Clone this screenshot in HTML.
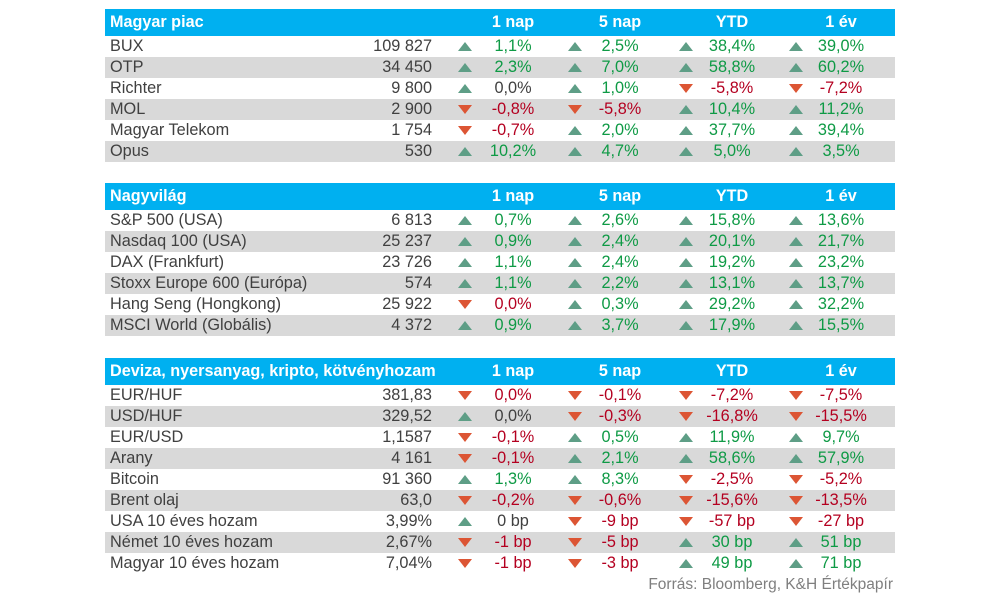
<!DOCTYPE html>
<html><head><meta charset="utf-8"><style>
body{margin:0;width:1000px;height:598px;background:#fff;position:relative;overflow:hidden;font-family:"Liberation Sans",sans-serif;font-size:16.3px;color:#404040}
.r{position:absolute;left:105px;width:790px;height:21px;line-height:21px}
.h{position:absolute;left:105px;width:790px;height:27px;line-height:27px;background:#00b0f0;color:#fff;font-weight:bold;font-size:16.2px}
.gr{background:#d9d9d9}
.r span,.h span{position:absolute;top:0;white-space:nowrap}
.n{left:5px}
.v{right:463px}
.c{width:90px;text-align:center}
.c1{left:363px}.c2{left:470px}.c3{left:582px}.c4{left:691px}
.u,.d{position:absolute;width:0;height:0;border-left:7px solid transparent;border-right:7px solid transparent;top:6px}
.u{border-bottom:9px solid #5e9e86}
.d{border-top:9px solid #dc5534}
.a1{left:353px}.a2{left:463px}.a3{left:574px}.a4{left:684px}
.g{color:#0e9a45}.k{color:#404040}.e{color:#b40020}
.src{position:absolute;right:107px;top:576px;color:#7f7f7f;font-size:15.5px}
</style></head><body>

<div class="h" style="top:9px"><span class="n">Magyar piac</span><span class="c c1">1 nap</span><span class="c c2">5 nap</span><span class="c c3">YTD</span><span class="c c4">1 év</span></div>
<div class="r" style="top:36px"><span class="n">BUX</span><span class="v">109 827</span><i class="u a1"></i><span class="c c1 g">1,1%</span><i class="u a2"></i><span class="c c2 g">2,5%</span><i class="u a3"></i><span class="c c3 g">38,4%</span><i class="u a4"></i><span class="c c4 g">39,0%</span></div>
<div class="r gr" style="top:57px"><span class="n">OTP</span><span class="v">34 450</span><i class="u a1"></i><span class="c c1 g">2,3%</span><i class="u a2"></i><span class="c c2 g">7,0%</span><i class="u a3"></i><span class="c c3 g">58,8%</span><i class="u a4"></i><span class="c c4 g">60,2%</span></div>
<div class="r" style="top:78px"><span class="n">Richter</span><span class="v">9 800</span><i class="u a1"></i><span class="c c1 k">0,0%</span><i class="u a2"></i><span class="c c2 g">1,0%</span><i class="d a3"></i><span class="c c3 e">-5,8%</span><i class="d a4"></i><span class="c c4 e">-7,2%</span></div>
<div class="r gr" style="top:99px"><span class="n">MOL</span><span class="v">2 900</span><i class="d a1"></i><span class="c c1 e">-0,8%</span><i class="d a2"></i><span class="c c2 e">-5,8%</span><i class="u a3"></i><span class="c c3 g">10,4%</span><i class="u a4"></i><span class="c c4 g">11,2%</span></div>
<div class="r" style="top:120px"><span class="n">Magyar Telekom</span><span class="v">1 754</span><i class="d a1"></i><span class="c c1 e">-0,7%</span><i class="u a2"></i><span class="c c2 g">2,0%</span><i class="u a3"></i><span class="c c3 g">37,7%</span><i class="u a4"></i><span class="c c4 g">39,4%</span></div>
<div class="r gr" style="top:141px"><span class="n">Opus</span><span class="v">530</span><i class="u a1"></i><span class="c c1 g">10,2%</span><i class="u a2"></i><span class="c c2 g">4,7%</span><i class="u a3"></i><span class="c c3 g">5,0%</span><i class="u a4"></i><span class="c c4 g">3,5%</span></div>

<div class="h" style="top:183px"><span class="n">Nagyvilág</span><span class="c c1">1 nap</span><span class="c c2">5 nap</span><span class="c c3">YTD</span><span class="c c4">1 év</span></div>
<div class="r" style="top:210px"><span class="n">S&amp;P 500 (USA)</span><span class="v">6 813</span><i class="u a1"></i><span class="c c1 g">0,7%</span><i class="u a2"></i><span class="c c2 g">2,6%</span><i class="u a3"></i><span class="c c3 g">15,8%</span><i class="u a4"></i><span class="c c4 g">13,6%</span></div>
<div class="r gr" style="top:231px"><span class="n">Nasdaq 100 (USA)</span><span class="v">25 237</span><i class="u a1"></i><span class="c c1 g">0,9%</span><i class="u a2"></i><span class="c c2 g">2,4%</span><i class="u a3"></i><span class="c c3 g">20,1%</span><i class="u a4"></i><span class="c c4 g">21,7%</span></div>
<div class="r" style="top:252px"><span class="n">DAX (Frankfurt)</span><span class="v">23 726</span><i class="u a1"></i><span class="c c1 g">1,1%</span><i class="u a2"></i><span class="c c2 g">2,4%</span><i class="u a3"></i><span class="c c3 g">19,2%</span><i class="u a4"></i><span class="c c4 g">23,2%</span></div>
<div class="r gr" style="top:273px"><span class="n">Stoxx Europe 600 (Európa)</span><span class="v">574</span><i class="u a1"></i><span class="c c1 g">1,1%</span><i class="u a2"></i><span class="c c2 g">2,2%</span><i class="u a3"></i><span class="c c3 g">13,1%</span><i class="u a4"></i><span class="c c4 g">13,7%</span></div>
<div class="r" style="top:294px"><span class="n">Hang Seng (Hongkong)</span><span class="v">25 922</span><i class="d a1"></i><span class="c c1 e">0,0%</span><i class="u a2"></i><span class="c c2 g">0,3%</span><i class="u a3"></i><span class="c c3 g">29,2%</span><i class="u a4"></i><span class="c c4 g">32,2%</span></div>
<div class="r gr" style="top:315px"><span class="n">MSCI World (Globális)</span><span class="v">4 372</span><i class="u a1"></i><span class="c c1 g">0,9%</span><i class="u a2"></i><span class="c c2 g">3,7%</span><i class="u a3"></i><span class="c c3 g">17,9%</span><i class="u a4"></i><span class="c c4 g">15,5%</span></div>

<div class="h" style="top:358px"><span class="n">Deviza, nyersanyag, kripto, kötvényhozam</span><span class="c c1">1 nap</span><span class="c c2">5 nap</span><span class="c c3">YTD</span><span class="c c4">1 év</span></div>
<div class="r" style="top:385px"><span class="n">EUR/HUF</span><span class="v">381,83</span><i class="d a1"></i><span class="c c1 e">0,0%</span><i class="d a2"></i><span class="c c2 e">-0,1%</span><i class="d a3"></i><span class="c c3 e">-7,2%</span><i class="d a4"></i><span class="c c4 e">-7,5%</span></div>
<div class="r gr" style="top:406px"><span class="n">USD/HUF</span><span class="v">329,52</span><i class="u a1"></i><span class="c c1 k">0,0%</span><i class="d a2"></i><span class="c c2 e">-0,3%</span><i class="d a3"></i><span class="c c3 e">-16,8%</span><i class="d a4"></i><span class="c c4 e">-15,5%</span></div>
<div class="r" style="top:427px"><span class="n">EUR/USD</span><span class="v">1,1587</span><i class="d a1"></i><span class="c c1 e">-0,1%</span><i class="u a2"></i><span class="c c2 g">0,5%</span><i class="u a3"></i><span class="c c3 g">11,9%</span><i class="u a4"></i><span class="c c4 g">9,7%</span></div>
<div class="r gr" style="top:448px"><span class="n">Arany</span><span class="v">4 161</span><i class="d a1"></i><span class="c c1 e">-0,1%</span><i class="u a2"></i><span class="c c2 g">2,1%</span><i class="u a3"></i><span class="c c3 g">58,6%</span><i class="u a4"></i><span class="c c4 g">57,9%</span></div>
<div class="r" style="top:469px"><span class="n">Bitcoin</span><span class="v">91 360</span><i class="u a1"></i><span class="c c1 g">1,3%</span><i class="u a2"></i><span class="c c2 g">8,3%</span><i class="d a3"></i><span class="c c3 e">-2,5%</span><i class="d a4"></i><span class="c c4 e">-5,2%</span></div>
<div class="r gr" style="top:490px"><span class="n">Brent olaj</span><span class="v">63,0</span><i class="d a1"></i><span class="c c1 e">-0,2%</span><i class="d a2"></i><span class="c c2 e">-0,6%</span><i class="d a3"></i><span class="c c3 e">-15,6%</span><i class="d a4"></i><span class="c c4 e">-13,5%</span></div>
<div class="r" style="top:511px"><span class="n">USA 10 éves hozam</span><span class="v">3,99%</span><i class="u a1"></i><span class="c c1 k">0 bp</span><i class="d a2"></i><span class="c c2 e">-9 bp</span><i class="d a3"></i><span class="c c3 e">-57 bp</span><i class="d a4"></i><span class="c c4 e">-27 bp</span></div>
<div class="r gr" style="top:532px"><span class="n">Német 10 éves hozam</span><span class="v">2,67%</span><i class="d a1"></i><span class="c c1 e">-1 bp</span><i class="d a2"></i><span class="c c2 e">-5 bp</span><i class="u a3"></i><span class="c c3 g">30 bp</span><i class="u a4"></i><span class="c c4 g">51 bp</span></div>
<div class="r" style="top:553px"><span class="n">Magyar 10 éves hozam</span><span class="v">7,04%</span><i class="d a1"></i><span class="c c1 e">-1 bp</span><i class="d a2"></i><span class="c c2 e">-3 bp</span><i class="u a3"></i><span class="c c3 g">49 bp</span><i class="u a4"></i><span class="c c4 g">71 bp</span></div>

<div class="src">Forrás: Bloomberg, K&amp;H Értékpapír</div>
</body></html>
